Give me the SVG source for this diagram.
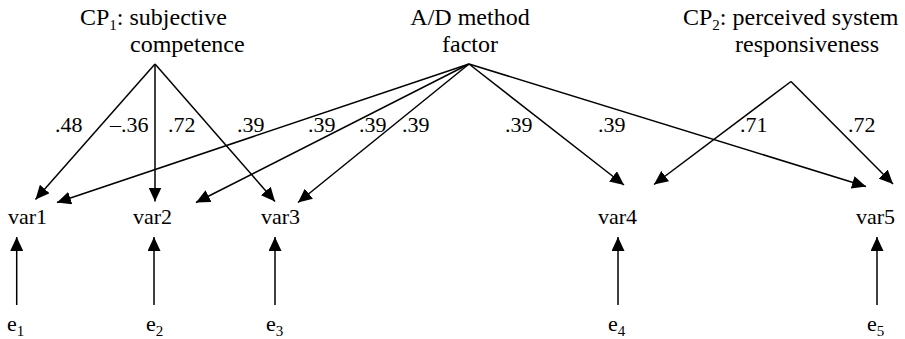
<svg xmlns="http://www.w3.org/2000/svg" width="905" height="339" viewBox="0 0 905 339">
<defs>
<marker id="ah" markerUnits="userSpaceOnUse" markerWidth="15" markerHeight="13" refX="14" refY="6.5" orient="auto">
<path d="M0,0 L14,6.5 L0,13 z" fill="#000"/>
</marker>
<style>
text{font-family:'Liberation Serif','DejaVu Serif',serif;font-size:22px;fill:#000}
.t{font-size:24px}
.sub{font-size:15px}
.c{text-anchor:middle}
line{stroke:#000;stroke-width:1.5;marker-end:url(#ah)}
</style>
</defs>
<rect width="905" height="339" fill="#fff"/>
<g id="cp1"><text class="t" x="80" y="25">CP<tspan class="sub" dy="5">1</tspan><tspan dy="-5">: subjective</tspan></text><text class="t" x="130" y="52">competence</text></g>
<g id="ad"><text class="t c" x="470" y="25">A/D method</text><text class="t c" x="470" y="52">factor</text></g>
<g id="cp2"><text class="t" x="683" y="25">CP<tspan class="sub" dy="5">2</tspan><tspan dy="-5">: perceived system</tspan></text><text class="t" x="735" y="52">responsiveness</text></g>
<g id="var1"><text x="8" y="224">var1</text></g>
<g id="var2"><text x="133" y="224">var2</text></g>
<g id="var3"><text x="261" y="224">var3</text></g>
<g id="var4"><text x="598" y="224">var4</text></g>
<g id="var5"><text x="856" y="224">var5</text></g>
<g id="e1"><text x="7" y="331">e<tspan class="sub" dy="5">1</tspan></text></g>
<g id="e2"><text x="146" y="331">e<tspan class="sub" dy="5">2</tspan></text></g>
<g id="e3"><text x="266" y="331">e<tspan class="sub" dy="5">3</tspan></text></g>
<g id="e4"><text x="608" y="331">e<tspan class="sub" dy="5">4</tspan></text></g>
<g id="e5"><text x="867" y="331">e<tspan class="sub" dy="5">5</tspan></text></g>
<g id="connectors">
<line x1="155" y1="64" x2="35.5" y2="199.5"/>
<line x1="155" y1="64" x2="155" y2="201.5"/>
<line x1="155" y1="64" x2="275" y2="201.5"/>
<line x1="469" y1="64" x2="57" y2="202.5"/>
<line x1="469" y1="64" x2="196" y2="202.5"/>
<line x1="469" y1="64" x2="298" y2="202.5"/>
<line x1="469" y1="64" x2="624" y2="185"/>
<line x1="469" y1="64" x2="866" y2="186.5"/>
<line x1="791" y1="81.5" x2="654" y2="184.5"/>
<line x1="791" y1="81.5" x2="893" y2="184"/>
<line x1="16.7" y1="305" x2="16.7" y2="237"/>
<line x1="154" y1="305" x2="154" y2="237"/>
<line x1="275" y1="305" x2="275" y2="237"/>
<line x1="618" y1="305" x2="618" y2="237"/>
<line x1="877" y1="305" x2="877" y2="237"/>
</g>
<g id="labels">
<text x="55" y="132">.48</text>
<text x="110" y="132">–.36</text>
<text x="168" y="132">.72</text>
<text x="237" y="132">.39</text>
<text x="308" y="132">.39</text>
<text x="359" y="132">.39</text>
<text x="402" y="132">.39</text>
<text x="505" y="132">.39</text>
<text x="598" y="132">.39</text>
<text x="740" y="132">.71</text>
<text x="848" y="132">.72</text>
</g>
</svg>
